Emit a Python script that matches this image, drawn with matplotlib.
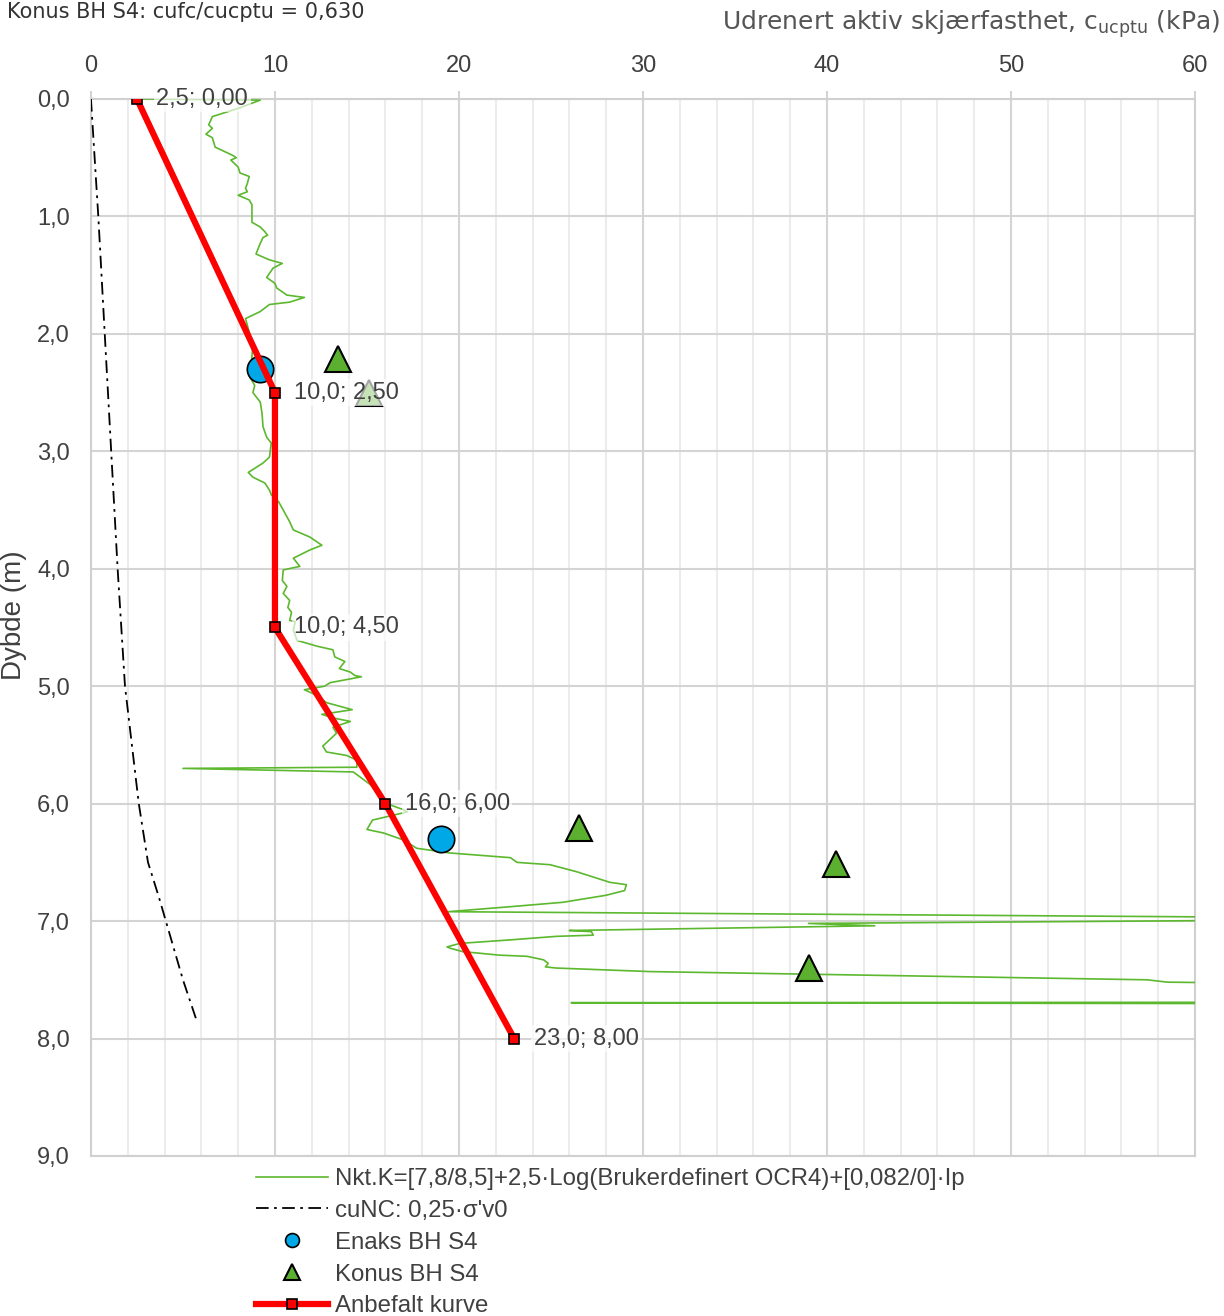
import numpy as np
import matplotlib
matplotlib.use("Agg")
import matplotlib.pyplot as plt
from matplotlib.ticker import MultipleLocator, FuncFormatter

# CPTU-tolkning (Nkt-metode)
cptu_cu = [2.6, 9.2, 8.0, 6.6, 6.4, 6.6, 6.25, 6.6, 6.75, 7.7, 7.9, 7.6, 8.0, 8.1, 8.6, 8.5, 8.4,
           8.5, 8.0, 8.6, 8.75, 8.75, 9.2, 9.45, 9.6, 9.35, 9.2, 8.97, 9.7, 10.4, 9.9, 9.55, 10.0,
           10.1, 10.65, 11.6, 10.8, 9.7, 9.2, 8.4, 8.8, 8.65, 8.9, 8.8, 9.2, 9.3, 9.35, 9.55, 9.8,
           9.7, 9.35, 8.55, 8.8, 9.45, 9.7, 9.8, 10.2, 10.45, 10.8, 11.0, 11.9, 12.55, 11.9, 11.0,
           11.35, 10.45, 10.4, 10.65, 10.45, 10.8, 10.7, 10.9, 10.8, 11.1, 11.0, 11.2, 12.3, 13.15,
           13.25, 13.8, 13.5, 14.1, 14.35, 14.7, 13.0, 12.7, 11.6, 12.3, 12.8, 14.2, 12.55, 13.15,
           14.1, 13.15, 13.35, 12.6, 12.8, 13.9, 14.45, 14.45, 5.0, 14.25, 14.6, 15.2, 15.55, 15.9,
           16.95, 17.2, 15.3, 15.0, 15.9, 17.0, 17.7, 19.5, 22.8, 23.15, 24.95, 26.4, 28.2, 29.1,
           29.0, 28.0, 25.65, 22.6, 19.4, 75.0, 39.0, 42.6, 26.0, 27.2, 27.3, 25.3, 22.8, 20.05,
           19.35, 19.5, 20.2, 22.2, 23.7, 24.6, 24.85, 24.7, 25.3, 30.4, 57.4, 58.5, 75.0, 75.0,
           26.1, 75.0]
cptu_z = [0.0, 0.01, 0.08, 0.15, 0.22, 0.25, 0.30, 0.33, 0.41, 0.48, 0.50, 0.52, 0.58, 0.63, 0.66,
          0.72, 0.76, 0.79, 0.82, 0.86, 0.90, 1.05, 1.09, 1.13, 1.16, 1.18, 1.23, 1.32, 1.37, 1.40,
          1.44, 1.52, 1.57, 1.61, 1.67, 1.69, 1.73, 1.75, 1.81, 1.87, 2.10, 2.37, 2.44, 2.50, 2.58,
          2.68, 2.79, 2.88, 2.93, 3.05, 3.10, 3.18, 3.22, 3.27, 3.33, 3.37, 3.43, 3.50, 3.60, 3.67,
          3.73, 3.80, 3.84, 3.91, 3.98, 4.01, 4.10, 4.15, 4.21, 4.27, 4.33, 4.37, 4.44, 4.45, 4.52,
          4.61, 4.66, 4.69, 4.75, 4.79, 4.85, 4.88, 4.91, 4.92, 4.97, 5.00, 5.03, 5.08, 5.14, 5.20,
          5.24, 5.27, 5.30, 5.35, 5.40, 5.51, 5.56, 5.59, 5.63, 5.69, 5.70, 5.73, 5.77, 5.84, 5.91,
          5.99, 6.05, 6.07, 6.14, 6.22, 6.25, 6.31, 6.38, 6.42, 6.46, 6.50, 6.52, 6.58, 6.67, 6.69,
          6.74, 6.78, 6.84, 6.88, 6.92, 6.98, 7.02, 7.04, 7.08, 7.09, 7.12, 7.13, 7.16, 7.19, 7.22,
          7.23, 7.26, 7.29, 7.30, 7.33, 7.36, 7.39, 7.40, 7.43, 7.50, 7.52, 7.55, 7.69, 7.695, 7.705]

# cuNC: 0,25*sigma'v0
nc_cu = [0.0, 0.4, 0.75, 1.1, 1.45, 1.85, 2.6, 3.1, 3.7, 5.0, 5.75]
nc_z = [0.0, 1.0, 2.0, 3.0, 4.0, 5.0, 6.0, 6.5, 6.8, 7.5, 7.85]

# labforsok
enaks_cu = [9.2, 19.0]
enaks_z = [2.30, 6.30]
konus_cu = [13.4, 15.1, 26.5, 40.5, 39.0]
konus_z = [2.21, 2.50, 6.21, 6.51, 7.40]

# anbefalt kurve
anb_cu = [2.5, 10.0, 10.0, 16.0, 23.0]
anb_z = [0.0, 2.5, 4.5, 6.0, 8.0]

fig = plt.figure(figsize=(12.24, 13.16), dpi=100)
ax = fig.add_axes([0.0743, 0.1216, 0.902, 0.8032])

ax.plot(cptu_cu, cptu_z, color='#5cb82e', lw=1.2, zorder=3,
        label='Nkt.K=[7,8/8,5]+2,5·Log(Brukerdefinert OCR4)+[0,082/0]·Ip')
ax.plot(nc_cu, nc_z, color='black', lw=1.3, dashes=(7, 3, 1.5, 3), zorder=3,
        label="cuNC: 0,25·σ'v0")
ax.plot(enaks_cu, enaks_z, ls='none', marker='o', ms=19, mfc='#00a8e8', mec='black', mew=1.2,
        zorder=5, label='Enaks BH S4')
ax.plot(konus_cu, konus_z, ls='none', marker='^', ms=19, mfc='#5bb030', mec='black', mew=1.5,
        zorder=5, label='Konus BH S4')
ax.plot(anb_cu, anb_z, color='red', lw=4.5, marker='s', ms=6.5, mfc='red', mec='black', mew=1.2,
        zorder=6, label='Anbefalt kurve')

for cu, z in zip(anb_cu, anb_z):
    txt = ('%.1f; %.2f' % (cu, z)).replace('.', ',')
    ax.annotate(txt, (cu, z), xytext=(14, 0), textcoords='offset points', va='center', ha='left',
                fontsize=17, color='#404040', family='Liberation Sans', zorder=7,
                bbox=dict(boxstyle='square,pad=0.1', fc='white', ec='none', alpha=0.65))

ax.set_xlim(0, 60)
ax.set_ylim(9, 0)
ax.xaxis.set_major_locator(MultipleLocator(10))
ax.xaxis.set_minor_locator(MultipleLocator(2))
ax.yaxis.set_major_locator(MultipleLocator(1))
ax.xaxis.tick_top()
ax.yaxis.set_major_formatter(FuncFormatter(lambda v, p: ('%.1f' % v).replace('.', ',')))
ax.grid(which='major', color='#d4d4d4', lw=1.5, zorder=0)
ax.grid(which='minor', axis='x', color='#ececec', lw=1.5, zorder=0)
ax.tick_params(which='both', length=0, labelsize=17, labelcolor='#404040', pad=8)
ax.tick_params(axis='y', pad=15)
ax.tick_params(axis='x', which='major', length=6, color='#d4d4d4', width=1.5, pad=10)
for lab in ax.get_xticklabels() + ax.get_yticklabels():
    lab.set_family('Liberation Sans')
for s in ax.spines.values():
    s.set_color('#d0d0d0')
    s.set_linewidth(1.5)

ax.set_ylabel('Dybde (m)', fontsize=20, color='#404040', family='Liberation Sans', labelpad=2)
ax.yaxis.set_label_coords(-0.058, 0.512)

fig.text(0.997, 0.982, 'Udrenert aktiv skjærfasthet, c$_{\\mathregular{ucptu}}$ (kPa)', ha='right',
         va='center', fontsize=18, color='#555555', family='DejaVu Sans')
fig.text(0.006, 0.991, 'Konus BH S4: cufc/cucptu = 0,630', ha='left', va='center', fontsize=15,
         color='#333333', family='DejaVu Sans')

leg = fig.legend(loc='upper left', bbox_to_anchor=(0.209, 0.1125), frameon=False,
                 prop={'family': 'Liberation Sans', 'size': 17.3}, handlelength=3.0,
                 handletextpad=0.3, labelspacing=0.41, borderaxespad=0, borderpad=0)
for t in leg.get_texts():
    t.set_color('#404040')
handles = leg.legend_handles
handles[2].set_markersize(10)
handles[3].set_markersize(11)

fig.savefig('out.png', dpi=100)
